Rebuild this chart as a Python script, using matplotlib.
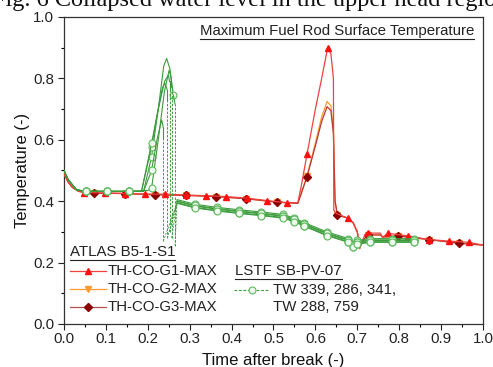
import matplotlib
matplotlib.use("Agg")
import matplotlib.pyplot as plt
from matplotlib.lines import Line2D
from matplotlib.ticker import MultipleLocator

plt.rcParams["font.family"] = ["Liberation Sans", "DejaVu Sans"]

# ==========================
# ATLAS B5-1-S1 data
# ==========================

g1_x = [0.0, 0.01, 0.02, 0.035, 0.048, 0.097, 0.145, 0.193, 0.242, 0.29,
        0.339, 0.387, 0.436, 0.484, 0.532, 0.558, 0.565, 0.58, 0.60, 0.615,
        0.629, 0.637, 0.643, 0.644, 0.65, 0.677, 0.69, 0.70, 0.706, 0.712,
        0.718, 0.725, 0.755, 0.76, 0.774, 0.822, 0.87, 0.919, 0.967, 1.0]
g1_y = [0.49, 0.462, 0.445, 0.432, 0.428, 0.427, 0.425, 0.423, 0.423, 0.42,
        0.418, 0.415, 0.41, 0.402, 0.395, 0.395, 0.44, 0.553, 0.70, 0.80,
        0.898, 0.88, 0.80, 0.37, 0.36, 0.345, 0.33, 0.30, 0.245, 0.27,
        0.29, 0.296, 0.296, 0.283, 0.295, 0.287, 0.275, 0.27, 0.266, 0.257]
g1_marks = [4, 5, 6, 7, 8, 9, 10, 11, 12, 13, 14, 17, 20, 25, 31, 34, 35, 36, 37, 38]

g3_x = [0.0, 0.01, 0.02, 0.035, 0.0725, 0.145, 0.2175, 0.29, 0.3625, 0.435,
        0.5075, 0.558, 0.565, 0.58, 0.60, 0.615, 0.628, 0.637, 0.643, 0.647,
        0.6525, 0.677, 0.69, 0.70, 0.706, 0.712, 0.725, 0.755, 0.76, 0.7975,
        0.87, 0.9425, 1.0]
g3_y = [0.49, 0.462, 0.445, 0.432, 0.426, 0.425, 0.421, 0.419, 0.415, 0.408,
        0.397, 0.393, 0.42, 0.48, 0.58, 0.66, 0.708, 0.695, 0.62, 0.40,
        0.355, 0.345, 0.33, 0.30, 0.25, 0.27, 0.29, 0.29, 0.283, 0.287,
        0.275, 0.263, 0.257]
g2_y = [0.49, 0.462, 0.445, 0.432, 0.426, 0.425, 0.421, 0.419, 0.415, 0.408,
        0.397, 0.393, 0.42, 0.482, 0.59, 0.675, 0.725, 0.71, 0.63, 0.40,
        0.355, 0.345, 0.33, 0.30, 0.25, 0.27, 0.29, 0.29, 0.283, 0.287,
        0.275, 0.263, 0.257]
g3_marks = [4, 5, 6, 7, 8, 9, 10, 13, 20, 26, 29, 30, 31]

# ==========================
# LSTF SB-PV-07 data (5 thermocouples)
# ==========================

head_x = [0.0, 0.01, 0.03, 0.052, 0.103, 0.156]
head_y = [0.50, 0.47, 0.437, 0.432, 0.432, 0.432]

rise_x = [
    [0.19, 0.209, 0.225, 0.238, 0.245, 0.253, 0.261],
    [0.20, 0.209, 0.225, 0.24, 0.251, 0.256],
    [0.185, 0.209, 0.225, 0.24, 0.249, 0.252],
    [0.185, 0.209, 0.222, 0.235, 0.241, 0.247],
    [0.19, 0.209, 0.222, 0.233, 0.237],
]
rise_y = [
    [0.432, 0.545, 0.70, 0.84, 0.865, 0.83, 0.746],
    [0.435, 0.442, 0.60, 0.76, 0.827, 0.80],
    [0.432, 0.578, 0.70, 0.79, 0.81, 0.79],
    [0.432, 0.588, 0.68, 0.77, 0.784, 0.76],
    [0.432, 0.50, 0.60, 0.665, 0.64],
]

drop_x = [0.265, 0.257, 0.252, 0.247, 0.237]
drop_lo = [0.255, 0.28, 0.30, 0.28, 0.27]

tail_x = [0.27, 0.313, 0.365, 0.418, 0.47, 0.522, 0.55, 0.574, 0.627,
          0.679, 0.69, 0.70, 0.731, 0.783, 0.835]
tail_top = [0.405, 0.39, 0.38, 0.372, 0.365, 0.357, 0.345, 0.33, 0.30,
            0.278, 0.262, 0.272, 0.278, 0.278, 0.278]
tail_offsets = [0.0, -0.006, -0.010, -0.004, -0.012]

# ==========================
# Figure
# ==========================

fig = plt.figure(figsize=(4.93, 3.67), dpi=100)
ax = fig.add_axes([0.1298, 0.1172, 0.8499, 0.8365])

red = "#ff1010"
orange = "#ff9a30"
dred = "#8b0000"
green = "#3c9c3c"
circ_face = "#eefaee"
circ_edge = "#5cb85c"
dash = (0, (2.5, 1.5))
fs = 10.8

ax.plot(g3_x, g2_y, color=orange, lw=0.9,
        marker="v", markevery=g3_marks, ms=5, mfc=orange, mec=orange, zorder=3)
ax.plot(g3_x, g3_y, color="#b83838", lw=0.9,
        marker="D", markevery=g3_marks, ms=4.5, mfc=dred, mec=dred, zorder=4)
ax.plot(g1_x, g1_y, color="#f04040", lw=0.9,
        marker="^", markevery=g1_marks, ms=5, mfc=red, mec=red, zorder=5)

for i in range(5):
    xs = head_x + rise_x[i]
    ys = head_y + rise_y[i]
    ty = [v + tail_offsets[i] for v in tail_top]
    m_idx = [3, 4, 5] + [6 + j for j, v in enumerate(rise_x[i]) if v in (0.209, 0.261)]

    ax.plot(xs, ys, color=green, lw=0.8, marker="o", markevery=m_idx,
            ms=5, mfc=circ_face, mec=circ_edge, mew=0.8, zorder=6)
    ax.plot(tail_x, ty, color=green, lw=0.8, marker="o",
            markevery=list(range(1, len(tail_x))), ms=5,
            mfc=circ_face, mec=circ_edge, mew=0.8, zorder=6)

    # dashed drop after the peak
    top = rise_y[i][-1] - 0.03
    ax.plot([rise_x[i][-1], drop_x[i]], [rise_y[i][-1], top],
            color=green, lw=0.8, zorder=6)
    ax.vlines(drop_x[i], drop_lo[i], top, colors=green,
              linestyles=dash, lw=0.7, zorder=6)
    ax.plot([drop_x[i], tail_x[0]], [drop_lo[i], ty[0]], color=green,
            lw=0.6, ls=dash, zorder=6)

ax.set_xlim(0, 1.0)
ax.set_ylim(0, 1.0)
ax.xaxis.set_major_locator(MultipleLocator(0.1))
ax.xaxis.set_minor_locator(MultipleLocator(0.05))
ax.yaxis.set_major_locator(MultipleLocator(0.2))
ax.yaxis.set_minor_locator(MultipleLocator(0.1))
ax.xaxis.set_major_formatter(plt.FormatStrFormatter("%.1f"))
ax.yaxis.set_major_formatter(plt.FormatStrFormatter("%.1f"))
ax.tick_params(which="major", direction="out", length=4, width=0.8,
               labelsize=fs, colors="#222222")
ax.tick_params(axis="x", which="major", pad=1.5)
ax.tick_params(axis="y", which="major", pad=3)
ax.tick_params(which="minor", direction="out", length=2.5, width=0.8)
for s in ax.spines.values():
    s.set_color("#333333")
    s.set_linewidth(0.9)

ax.set_xlabel("Time after break (-)", fontsize=12, labelpad=5, color="#111111")
ax.set_ylabel("Temperature (-)", fontsize=12, labelpad=2, color="#111111")

# ==========================
# Legend and title (drawn by hand)
# ==========================

def px(xp, yp):
    return ((xp - 64) / 419.0, (324 - yp) / 307.0)

underlined = []
t = ax.text(*px(474, 31), "Maximum Fuel Rod Surface Temperature",
            transform=ax.transAxes, ha="right", va="center", fontsize=fs,
            color="#222222")
underlined.append(t)
t = ax.text(*px(70, 252), "ATLAS B5-1-S1", transform=ax.transAxes,
            ha="left", va="center", fontsize=fs, color="#222222")
underlined.append(t)
t = ax.text(*px(235, 271), "LSTF SB-PV-07", transform=ax.transAxes,
            ha="left", va="center", fontsize=fs, color="#222222")
underlined.append(t)

entries = [
    ("TH-CO-G1-MAX", "#f04040", "^", red, 5, 271),
    ("TH-CO-G2-MAX", orange, "v", orange, 5, 289),
    ("TH-CO-G3-MAX", "#b85050", "D", dred, 4.5, 307),
]
for label, lc, mk, mc, ms, yp in entries:
    x0, y0 = px(70, yp)
    x1, _ = px(106, yp)
    xm, _ = px(88, yp)
    ax.plot([x0, x1], [y0, y0], color=lc, lw=0.9, transform=ax.transAxes,
            clip_on=False)
    ax.plot([xm], [y0], marker=mk, ms=ms, color=mc, transform=ax.transAxes,
            clip_on=False)
    ax.text(*px(108, yp), label, transform=ax.transAxes, ha="left",
            va="center", fontsize=fs, color="#222222")

x0, y0 = px(234, 290)
x1, _ = px(268, 290)
xm, _ = px(252, 290)
ax.plot([x0, x1], [y0, y0], color=green, lw=0.8, ls=dash,
        transform=ax.transAxes, clip_on=False)
ax.plot([xm], [y0], marker="o", ms=5, mfc=circ_face, mec=circ_edge,
        mew=0.8, transform=ax.transAxes, clip_on=False)
ax.text(*px(273, 290), "TW 339, 286, 341,", transform=ax.transAxes,
        ha="left", va="center", fontsize=fs, color="#222222")
ax.text(*px(273, 307), "TW 288, 759", transform=ax.transAxes,
        ha="left", va="center", fontsize=fs, color="#222222")

# caption of the page, cut at the top edge as in the source
fig.text(-8 / 493, 1 - 6 / 367, "Fig. 6 Collapsed water level in the upper head region",
         family=["Liberation Serif", "DejaVu Serif"], fontsize=17.5,
         ha="left", va="baseline", color="#111111")

fig.canvas.draw()
renderer = fig.canvas.get_renderer()
for t in underlined:
    bb = t.get_window_extent(renderer)
    yline = bb.y0 - 1
    fig.add_artist(Line2D([bb.x0, bb.x1], [yline, yline], transform=None,
                          color="#222222", lw=0.8))

fig.savefig("out.png", dpi=100)
